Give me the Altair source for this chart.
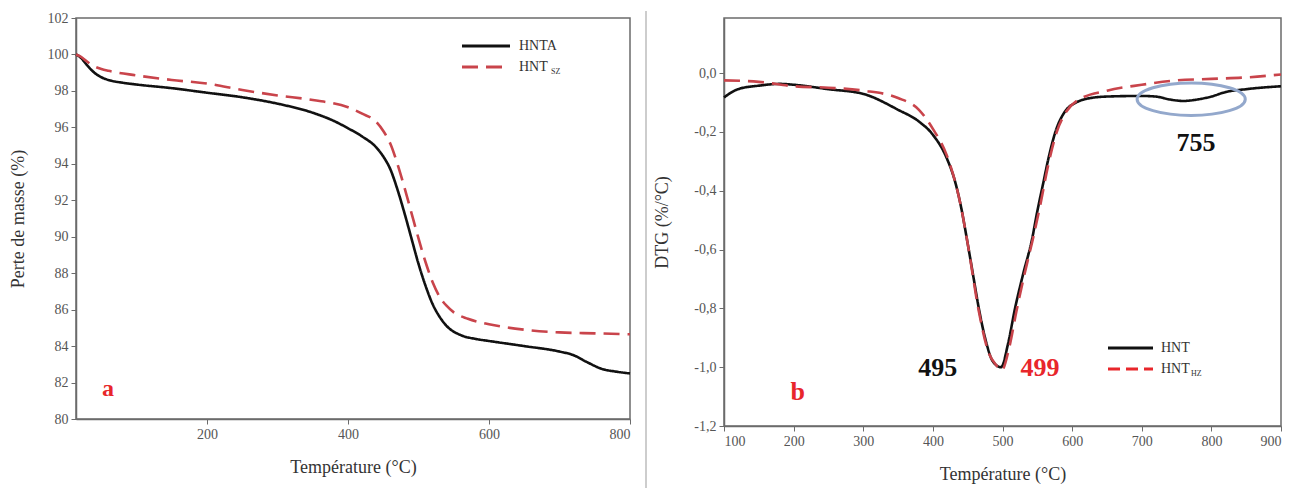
import altair as alt
import pandas as pd

# ---------- Panel a : TGA ----------
tga_T_hnta = [14, 20, 30, 40, 50, 60, 80, 100, 150, 200, 250, 300, 350, 380, 400, 420, 440, 450, 460, 470, 480, 490, 500, 510, 520, 530, 540, 560, 580, 600, 650, 700, 720, 740, 760, 780, 800]
tga_hnta = [100.0, 99.85, 99.4, 99.0, 98.75, 98.6, 98.45, 98.35, 98.15, 97.9, 97.65, 97.3, 96.8, 96.35, 95.95, 95.5, 94.9, 94.4, 93.7, 92.6, 91.3, 89.9, 88.5, 87.3, 86.3, 85.6, 85.1, 84.6, 84.4, 84.28, 84.0, 83.7, 83.5, 83.1, 82.75, 82.6, 82.5]

tga_T_hntsz = [14, 20, 30, 40, 50, 60, 100, 150, 200, 250, 300, 350, 400, 420, 440, 450, 460, 470, 480, 490, 500, 510, 520, 530, 540, 550, 570, 600, 650, 700, 750, 800]
tga_hntsz = [100.0, 99.9, 99.6, 99.35, 99.2, 99.1, 98.85, 98.6, 98.4, 98.05, 97.75, 97.5, 97.1, 96.75, 96.3, 95.8, 95.1, 94.0, 92.7, 91.3, 89.9, 88.6, 87.5, 86.7, 86.2, 85.85, 85.5, 85.2, 84.9, 84.75, 84.7, 84.65]

# ---------- Panel b : DTG ----------
dtg_T_hnt = [100, 120, 150, 180, 200, 250, 300, 350, 380, 400, 420, 432, 440, 450, 458, 466, 476, 486, 498, 508, 518, 530, 542, 550, 558, 567, 576, 590, 606, 620, 650, 700, 720, 740, 760, 780, 800, 820, 850, 900]
dtg_hnt = [-0.083, -0.055, -0.043, -0.037, -0.04, -0.055, -0.071, -0.125, -0.165, -0.21, -0.29, -0.37, -0.45, -0.58, -0.69, -0.80, -0.91, -0.98, -1.0, -0.92, -0.80, -0.68, -0.57, -0.47, -0.38, -0.28, -0.20, -0.13, -0.10, -0.088, -0.08, -0.078, -0.08, -0.09, -0.095, -0.09, -0.08, -0.065, -0.055, -0.045]

dtg_T_hntsz = [100, 150, 200, 250, 300, 350, 380, 400, 420, 432, 440, 450, 466, 480, 490, 499, 510, 520, 532, 545, 555, 565, 578, 592, 610, 650, 700, 750, 800, 850, 900]
dtg_hntsz = [-0.025, -0.03, -0.045, -0.05, -0.06, -0.085, -0.125, -0.19, -0.28, -0.37, -0.45, -0.58, -0.81, -0.95, -0.99, -1.01, -0.93, -0.81, -0.68, -0.55, -0.44, -0.32, -0.20, -0.13, -0.09, -0.06, -0.04, -0.025, -0.02, -0.015, -0.005]

FONT = "Liberation Serif"
RED_A = "#c9444b"
RED_B = "#e8262b"
TXT = "#333333"

df_a = pd.concat([
    pd.DataFrame({"T": tga_T_hnta, "v": tga_hnta, "s": "HNTA"}),
    pd.DataFrame({"T": tga_T_hntsz, "v": tga_hntsz, "s": "HNTSZ"}),
])
df_b = pd.concat([
    pd.DataFrame({"T": dtg_T_hnt, "v": dtg_hnt, "s": "HNT"}),
    pd.DataFrame({"T": dtg_T_hntsz, "v": dtg_hntsz, "s": "HNTSZ"}),
])

# ---------------- Chart a ----------------
xa = alt.X("T:Q", scale=alt.Scale(domain=[14, 800], nice=False, zero=False),
           axis=alt.Axis(values=[200, 400, 600, 800], title="Température (°C)", titlePadding=17))
ya = alt.Y("v:Q", scale=alt.Scale(domain=[80, 102], nice=False, zero=False),
           axis=alt.Axis(values=list(range(80, 103, 2)), title="Perte de masse (%)",
                         minExtent=40, maxExtent=40, titlePadding=9))

lines_a = alt.Chart(df_a).mark_line(strokeWidth=2.6, interpolate="monotone").encode(
    x=xa, y=ya,
    color=alt.Color("s:N", scale=alt.Scale(domain=["HNTA", "HNTSZ"], range=["#111111", RED_A]), legend=None),
    strokeDash=alt.StrokeDash("s:N", scale=alt.Scale(domain=["HNTA", "HNTSZ"], range=[[1, 0], [16, 8]]), legend=None),
)

leg_a1 = alt.Chart().mark_rule(color="#111111", strokeWidth=2.8).encode(
    x=alt.value(386), x2=alt.value(434), y=alt.value(28))
leg_a2 = alt.Chart().mark_rule(color=RED_A, strokeWidth=2.8, strokeDash=[16, 8]).encode(
    x=alt.value(386), x2=alt.value(434), y=alt.value(49))
leg_at1 = alt.Chart().mark_text(text="HNTA", font=FONT, fontSize=14, align="left", baseline="middle", color=TXT).encode(
    x=alt.value(443), y=alt.value(28))
leg_at2 = alt.Chart().mark_text(text="HNT", font=FONT, fontSize=14, align="left", baseline="middle", color=TXT).encode(
    x=alt.value(443), y=alt.value(49))
leg_at3 = alt.Chart().mark_text(text="SZ", font=FONT, fontSize=8, align="left", baseline="middle", color=TXT).encode(
    x=alt.value(475), y=alt.value(54))
lab_a = alt.Chart().mark_text(text="a", font=FONT, fontSize=24, fontWeight="bold", color=RED_B, baseline="middle").encode(
    x=alt.value(32), y=alt.value(371))

chart_a = alt.layer(lines_a, leg_a1, leg_a2, leg_at1, leg_at2, leg_at3, lab_a).properties(width=554, height=401)

# ---------------- Chart b ----------------
xb = alt.X("T:Q", scale=alt.Scale(domain=[100, 900], nice=False, zero=False),
           axis=alt.Axis(values=list(range(100, 901, 100)), title="Température (°C)", titlePadding=17))
yb = alt.Y("v:Q", scale=alt.Scale(domain=[-1.2, 0.187], nice=False, zero=False),
           axis=alt.Axis(values=[-1.2, -1.0, -0.8, -0.6, -0.4, -0.2, 0.0], title="DTG (%/°C)",
                         labelExpr="replace(replace(format(datum.value, '.1f'), '.', ','), '\u2212', '-')",
                         minExtent=40, maxExtent=40, titlePadding=13))

lines_b = alt.Chart(df_b).mark_line(strokeWidth=2.6, interpolate="monotone").encode(
    x=xb, y=yb,
    color=alt.Color("s:N", scale=alt.Scale(domain=["HNT", "HNTSZ"], range=["#111111", RED_B]), legend=None),
    strokeDash=alt.StrokeDash("s:N", scale=alt.Scale(domain=["HNT", "HNTSZ"], range=[[1, 0], [14, 7]]), legend=None),
)

ann_c = pd.DataFrame({
    "T": [407, 778, 206],
    "v": [-1.003, -0.239, -1.085],
    "t": ["495", "755", "b"],
    "c": ["#111111", "#111111", RED_B],
})
ann_b = alt.Chart(ann_c).mark_text(font=FONT, fontSize=26, fontWeight="bold", baseline="middle").encode(
    x="T:Q", y="v:Q", text="t:N", color=alt.Color("c:N", scale=None))
ann_l = pd.DataFrame({"T": [526], "v": [-1.003], "t": ["499"]})
ann_b2 = alt.Chart(ann_l).mark_text(font=FONT, fontSize=26, fontWeight="bold", baseline="middle",
                                    align="left", color=RED_B).encode(x="T:Q", y="v:Q", text="t:N")

ell = pd.DataFrame({"T": [771], "v": [-0.089]})
ellipse = alt.Chart(ell).mark_point(
    shape="M -1 0 A 1 0.3 0 1 0 1 0 A 1 0.3 0 1 0 -1 0 Z",
    size=11700, filled=False, stroke="#93a8cc", strokeWidth=3, opacity=1).encode(x="T:Q", y="v:Q")

leg_b1 = alt.Chart().mark_rule(color="#111111", strokeWidth=2.8).encode(
    x=alt.value(384), x2=alt.value(429), y=alt.value(330))
leg_b2 = alt.Chart().mark_rule(color=RED_B, strokeWidth=2.8, strokeDash=[12, 6]).encode(
    x=alt.value(384), x2=alt.value(429), y=alt.value(351))
leg_bt1 = alt.Chart().mark_text(text="HNT", font=FONT, fontSize=14, align="left", baseline="middle", color=TXT).encode(
    x=alt.value(437), y=alt.value(330))
leg_bt2 = alt.Chart().mark_text(text="HNT", font=FONT, fontSize=14, align="left", baseline="middle", color=TXT).encode(
    x=alt.value(437), y=alt.value(351))
leg_bt3 = alt.Chart().mark_text(text="HZ", font=FONT, fontSize=8, align="left", baseline="middle", color=TXT).encode(
    x=alt.value(467), y=alt.value(356))

sep = alt.Chart().mark_rule(color="#bdbdbd", strokeWidth=1.5).encode(
    x=alt.value(-78), y=alt.value(-7), y2=alt.value(470))

chart_b = alt.layer(lines_b, ellipse, ann_b, ann_b2, leg_b1, leg_b2, leg_bt1, leg_bt2, leg_bt3, sep).properties(width=557, height=408)

chart = alt.hconcat(chart_a, chart_b, spacing=8).properties(
    padding={"left": 0, "top": 1, "right": 0, "bottom": 0},
    background="white",
).configure_view(stroke="#6b6b6b", strokeWidth=1.5).configure_axis(
    labelFont=FONT, labelFontSize=14, labelColor="#555555",
    titleFont=FONT, titleFontSize=18, titleFontWeight="normal", titleColor="#333333",
    tickColor="#6b6b6b", domainColor="#6b6b6b", domainWidth=1.5, tickSize=5, labelPadding=3, grid=False,
)

chart.save("out.html", embed_options={"renderer": "svg", "actions": False})
